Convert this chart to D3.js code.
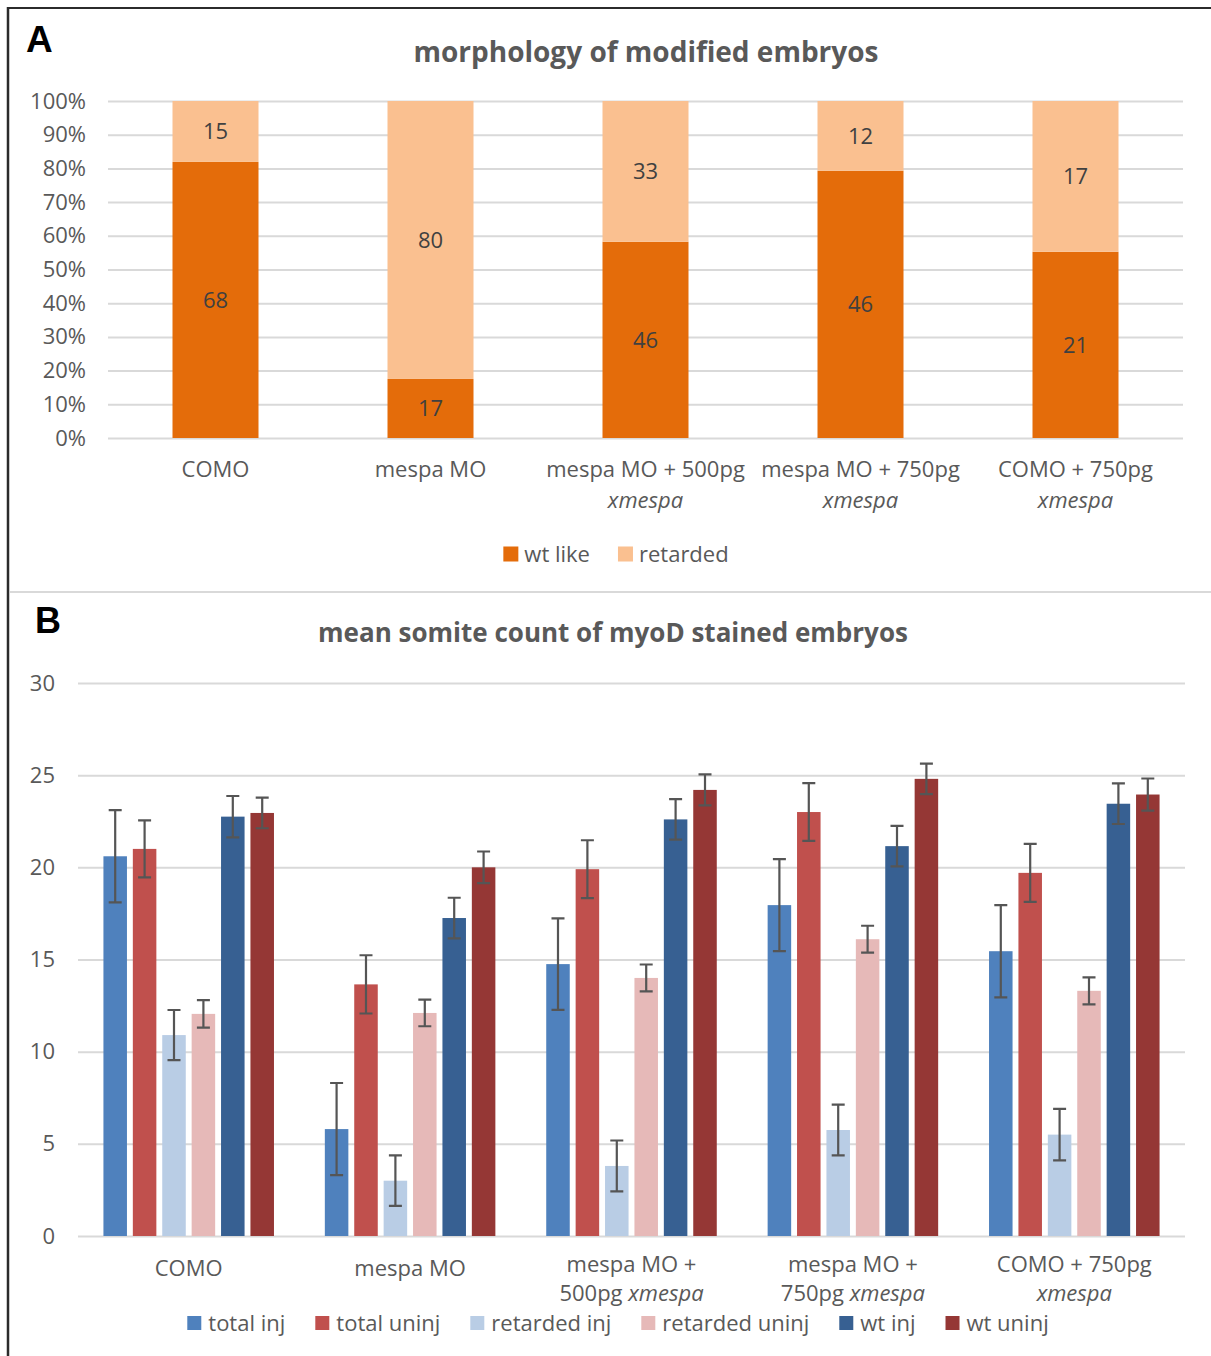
<!DOCTYPE html>
<html>
<head>
<meta charset="utf-8">
<script src="https://cdn.jsdelivr.net/npm/d3@7"></script>
<style>
  html, body { margin: 0; padding: 0; background: #fff; }
  svg { display: block; font-family: "Open Sans", "Noto Sans", sans-serif; }
</style>
</head>
<body>
<svg id="fig" width="1211" height="1356"></svg>
<script>
// ---- Panel A: morphology counts per treatment ----
const categoriesA = [
  ["COMO"],
  ["mespa MO"],
  ["mespa MO + 500pg", "xmespa"],
  ["mespa MO + 750pg", "xmespa"],
  ["COMO + 750pg", "xmespa"]
];
const wtLike   = [68, 17, 46, 46, 21];
const retarded = [15, 80, 33, 12, 17];
const seriesA = ["wt like", "retarded"];
const percentTicks = [0, 0.1, 0.2, 0.3, 0.4, 0.5, 0.6, 0.7, 0.8, 0.9, 1.0];

// ---- Panel B: mean somite count (with error) ----
const categoriesB = [
  ["COMO"],
  ["mespa MO"],
  ["mespa MO +", "500pg ", "xmespa"],
  ["mespa MO +", "750pg ", "xmespa"],
  ["COMO + 750pg", "", "xmespa"]
];
const seriesB = ["total inj", "total uninj", "retarded inj", "retarded uninj", "wt inj", "wt uninj"];
const totalInj       = [20.6,  5.8, 14.75, 17.95, 15.45];
const totalUninj     = [21.0, 13.65, 19.9, 23.0, 19.7];
const retardedInj    = [10.9,  3.0,  3.8,  5.75,  5.5];
const retardedUninj  = [12.05, 12.1, 14.0, 16.1, 13.3];
const wtInj          = [22.75, 17.25, 22.6, 21.15, 23.45];
const wtUninj        = [22.95, 20.0, 24.2, 24.8, 23.95];
const totalInjErr      = [2.5, 2.5, 2.48, 2.5, 2.5];
const totalUninjErr    = [1.55, 1.58, 1.57, 1.57, 1.57];
const retardedInjErr   = [1.36, 1.37, 1.38, 1.38, 1.4];
const retardedUninjErr = [0.75, 0.72, 0.73, 0.73, 0.73];
const wtInjErr         = [1.12, 1.1, 1.1, 1.1, 1.1];
const wtUninjErr       = [0.83, 0.86, 0.84, 0.83, 0.87];
const countTicks = [0, 5, 10, 15, 20, 25, 30];

const colorsA = ["#E46C0A", "#FAC090"];
const colorsB = ["#4F81BD", "#C0504D", "#B9CDE5", "#E6B9B8", "#376092", "#953735"];

const svg = d3.select("#fig");
const textGray = "#595959";
const gridGray = "#D9D9D9";
const fs = 22;

// frame lines
svg.append("line").attr("x1", 8).attr("x2", 1211).attr("y1", 8).attr("y2", 8)
  .attr("stroke", "#2b2b2b").attr("stroke-width", 2);
svg.append("line").attr("x1", 8).attr("x2", 8).attr("y1", 7).attr("y2", 1356)
  .attr("stroke", "#2b2b2b").attr("stroke-width", 2.5);
svg.append("line").attr("x1", 10).attr("x2", 1211).attr("y1", 592).attr("y2", 592)
  .attr("stroke", gridGray).attr("stroke-width", 2);

// panel letters
svg.append("text").attr("x", 26).attr("y", 52).text("A")
  .attr("font-family", "Liberation Sans, Arial, sans-serif").attr("font-weight", "bold")
  .attr("font-size", 37).attr("fill", "#000");
svg.append("text").attr("x", 35).attr("y", 633).text("B")
  .attr("font-family", "Liberation Sans, Arial, sans-serif").attr("font-weight", "bold")
  .attr("font-size", 36).attr("fill", "#000");

// ================= Panel A =================
const gA = svg.append("g");
gA.append("text").attr("x", 646).attr("y", 52).attr("dy", "0.35em")
  .attr("text-anchor", "middle").attr("font-weight", "bold").attr("font-size", 28)
  .attr("fill", textGray).text("morphology of modified embryos");

const yA = d3.scaleLinear().domain([0, 1]).range([438, 101]);
const xA = d3.scaleBand().domain(d3.range(categoriesA.length)).range([108, 1183])
  .paddingInner(0.6).paddingOuter(0.3);

const axisA = d3.axisLeft(yA).tickValues(percentTicks).tickFormat(d3.format(".0%"))
  .tickSize(-(1183 - 108)).tickPadding(22);
const axA = gA.append("g").attr("transform", "translate(108,0)").call(axisA);
axA.select(".domain").remove();
axA.selectAll(".tick line").attr("stroke", gridGray).attr("stroke-width", 2);
axA.selectAll(".tick text").attr("font-size", fs).attr("fill", textGray)
  .attr("font-family", "Open Sans, sans-serif");

const tableA = wtLike.map((w, i) => ({ i, "wt like": w, "retarded": retarded[i] }));
const stackA = d3.stack().keys(seriesA).offset(d3.stackOffsetExpand)(tableA);

const layersA = gA.append("g").selectAll("g").data(stackA).join("g")
  .attr("fill", (d, k) => colorsA[k]);
layersA.selectAll("rect").data(d => d).join("rect")
  .attr("x", d => xA(d.data.i))
  .attr("width", xA.bandwidth())
  .attr("y", d => yA(d[1]))
  .attr("height", d => yA(d[0]) - yA(d[1]));
layersA.each(function (layer) {
  d3.select(this).selectAll("text").data(layer).join("text")
    .attr("x", d => xA(d.data.i) + xA.bandwidth() / 2)
    .attr("y", d => (yA(d[0]) + yA(d[1])) / 2)
    .attr("dy", "0.35em").attr("text-anchor", "middle")
    .attr("font-size", fs).attr("fill", "#404040")
    .text(d => d.data[layer.key]);
});

// category labels
const catA = gA.append("g").selectAll("text").data(categoriesA).join("text")
  .attr("text-anchor", "middle").attr("font-size", fs).attr("fill", textGray);
catA.each(function (lines, i) {
  const t = d3.select(this);
  const cx = xA(i) + xA.bandwidth() / 2;
  lines.forEach((ln, j) => {
    t.append("tspan").attr("x", cx).attr("y", 469 + j * 31).attr("dy", "0.35em")
      .attr("font-style", j === 1 ? "italic" : null).text(ln);
  });
});

// legend helper: swatch + label rows, centred on cx
function legend(g, names, colors, cx, cy, box, gapText, gapItem, size) {
  const lg = g.append("g");
  let x = 0;
  names.forEach((n, k) => {
    lg.append("rect").attr("x", x).attr("y", cy - box / 2).attr("width", box).attr("height", box)
      .attr("fill", colors[k]);
    const t = lg.append("text").attr("x", x + box + gapText).attr("y", cy).attr("dy", "0.35em")
      .attr("font-size", size).attr("fill", textGray).text(n);
    x += box + gapText + t.node().getComputedTextLength() + gapItem;
  });
  const w = x - gapItem;
  lg.attr("transform", `translate(${cx - w / 2},0)`);
}
legend(gA, seriesA, colorsA, 616, 554, 15, 6, 28, fs);

// ================= Panel B =================
const gB = svg.append("g");
gB.append("text").attr("x", 613).attr("y", 633).attr("dy", "0.35em")
  .attr("text-anchor", "middle").attr("font-weight", "bold").attr("font-size", 26)
  .attr("fill", textGray).text("mean somite count of myoD stained embryos");

const yB = d3.scaleLinear().domain([0, 30]).range([1236, 683]);
const x0 = d3.scaleBand().domain(d3.range(categoriesB.length)).range([78, 1185]);
const x1 = d3.scaleBand().domain(seriesB).range([0, x0.bandwidth()])
  .paddingInner(0.2).paddingOuter(0.865);

const axisB = d3.axisLeft(yB).tickValues(countTicks).tickFormat(d3.format("d"))
  .tickSize(-(1185 - 78)).tickPadding(23);
const axB = gB.append("g").attr("transform", "translate(78,0)").call(axisB);
axB.select(".domain").remove();
axB.selectAll(".tick line").attr("stroke", gridGray).attr("stroke-width", 2);
axB.selectAll(".tick text").attr("font-size", fs).attr("fill", textGray)
  .attr("font-family", "Open Sans, sans-serif");

const valuesB = [totalInj, totalUninj, retardedInj, retardedUninj, wtInj, wtUninj];
const errorsB = [totalInjErr, totalUninjErr, retardedInjErr, retardedUninjErr, wtInjErr, wtUninjErr];
const rowsB = [];
categoriesB.forEach((c, i) => {
  seriesB.forEach((s, k) => {
    rowsB.push({ i, s, k, v: valuesB[k][i], e: errorsB[k][i] });
  });
});

gB.append("g").selectAll("rect").data(rowsB).join("rect")
  .attr("x", d => x0(d.i) + x1(d.s))
  .attr("width", x1.bandwidth())
  .attr("y", d => yB(d.v))
  .attr("height", d => yB(0) - yB(d.v))
  .attr("fill", d => colorsB[d.k]);

// error bars
const eb = gB.append("g").attr("stroke", "#555555").attr("stroke-width", 2.2).attr("fill", "none");
const cap = 6.5;
eb.selectAll("path").data(rowsB).join("path")
  .attr("d", d => {
    const cx = x0(d.i) + x1(d.s) + x1.bandwidth() / 2;
    const yt = yB(d.v + d.e), yb = yB(d.v - d.e);
    return `M${cx},${yt}V${yb}M${cx - cap},${yt}H${cx + cap}M${cx - cap},${yb}H${cx + cap}`;
  });

// category labels B
categoriesB.forEach((lines, i) => {
  const cx = x0(i) + x0.bandwidth() / 2;
  if (lines.length === 1) {
    gB.append("text").attr("x", cx).attr("y", 1268).attr("dy", "0.35em")
      .attr("text-anchor", "middle").attr("font-size", fs).attr("fill", textGray).text(lines[0]);
  } else {
    gB.append("text").attr("x", cx).attr("y", 1264).attr("dy", "0.35em")
      .attr("text-anchor", "middle").attr("font-size", fs).attr("fill", textGray).text(lines[0]);
    const t2 = gB.append("text").attr("x", cx).attr("y", 1293).attr("dy", "0.35em")
      .attr("text-anchor", "middle").attr("font-size", fs).attr("fill", textGray);
    if (lines[1]) t2.append("tspan").text(lines[1]);
    t2.append("tspan").attr("font-style", "italic").text(lines[2]);
  }
});

legend(gB, seriesB, colorsB, 618, 1323, 14, 7, 30, fs);
</script>
</body>
</html>
